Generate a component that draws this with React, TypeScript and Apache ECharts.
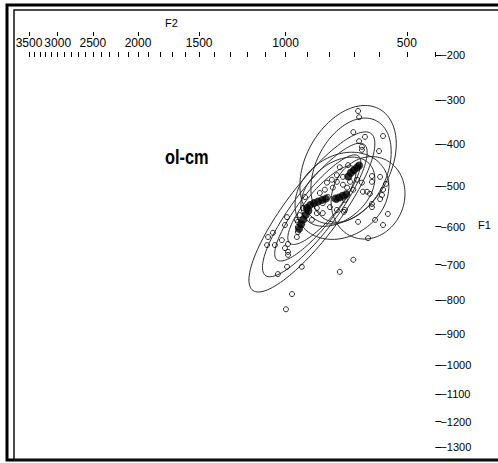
import React, { useEffect, useRef } from "react";
import * as echarts from "echarts";

// F2 axis (top, Hz, Bark-scaled)
const F2_MAJOR = [500, 1000, 1500, 2000, 2500, 3000, 3500];
const F2_MINOR = [
  400, 500, 600, 700, 800, 900, 1000, 1100, 1200, 1300, 1400, 1500, 1600, 1700, 1800, 1900,
  2000, 2100, 2200, 2300, 2400, 2500, 2600, 2700, 2800, 2900, 3000, 3100, 3200, 3300, 3400, 3500,
];
// F1 axis (right, Hz, Bark-scaled)
const F1_TICKS = [200, 300, 400, 500, 600, 700, 800, 900, 1000, 1100, 1200, 1300];

// Individual tokens [F2 Hz, F1 Hz] (open circles)
const TOKENS: number[][] = [
  [683, 324], [679, 338], [702, 372], [656, 383], [679, 393], [587, 381], [668, 406], [668, 413],
  [602, 416], [629, 475], [598, 477], [629, 489], [664, 513], [648, 513], [637, 518], [587, 508],
  [591, 521], [598, 531], [629, 543], [629, 551], [576, 494], [569, 568], [587, 596], [617, 583],
  [644, 630], [683, 588], [740, 563], [757, 454], [723, 449], [702, 461], [769, 473], [744, 477],
  [790, 484], [769, 489], [811, 491], [744, 496], [715, 489], [687, 484], [668, 491], [820, 508],
  [786, 503], [727, 503], [702, 508], [842, 516], [807, 526], [769, 533], [736, 533], [829, 541],
  [798, 551], [769, 558], [855, 553], [829, 566], [736, 558], [918, 553], [932, 571], [941, 588],
  [877, 583], [908, 526], [855, 566], [993, 576], [946, 583], [941, 601], [941, 614], [1003, 596],
  [1063, 616], [1093, 648], [1053, 648], [988, 645], [1003, 656], [988, 666], [988, 674], [993, 706],
  [923, 706], [1038, 726], [969, 782], [998, 826], [757, 720], [702, 687], [946, 627], [1018, 635],
  [1088, 627],
];

// Mean formant tracks [F2 Hz, F1 Hz] (filled)
const TRACK_A: number[][] = [[936, 606], [926, 594], [916, 582], [905, 570], [893, 560]];
const TRACK_B: number[][] = [[900, 553], [885, 546], [868, 541], [850, 537], [832, 533], [816, 530]];
const TRACK_C: number[][] = [[775, 530], [760, 527], [745, 523], [730, 519]];
const TRACK_D: number[][] = [[722, 476], [712, 467], [700, 461], [688, 455], [679, 450]];

// Ellipses: [centre F2 Hz, centre F1 Hz, sd F2 (Bark), sd F1 (Bark), correlation]
const ELLIPSES: number[][] = [
  [723, 448, 1.5, 1.25, 0.35],
  [711, 461, 1.25, 1.1, 0.35],
  [748, 523, 1.46, 0.92, 0.21],
  [644, 528, 1.15, 0.87, 0.1],
  [765, 513, 1.15, 0.73, 0.38],
  [877, 563, 1.96, 1.69, 0.85],
  [864, 558, 1.63, 1.41, 0.86],
  [851, 553, 1.34, 1.12, 0.86],
  [833, 546, 1.06, 0.83, 0.83],
];

const LABEL = "ol-cm";

// Zwicker Bark transform
const bark = (f: number) => 13 * Math.atan(0.00076 * f) + 3.5 * Math.atan((f / 7500) * (f / 7500));
const hzOf = (b: number, list: number[]) => {
  let best = list[0];
  for (const v of list) if (Math.abs(bark(v) - b) < Math.abs(bark(best) - b)) best = v;
  return best;
};

const FONT = "Arial, 'Liberation Sans', sans-serif";

export default function App() {
  const ref = useRef<HTMLDivElement>(null);
  useEffect(() => {
    if (!ref.current) return;
    const chart = echarts.init(ref.current, null, { renderer: "svg" });
    const xMin = bark(400);
    const xMax = bark(3500);
    const yMin = bark(200);
    const yMax = bark(1300);
    const trackSeries = [TRACK_A, TRACK_B, TRACK_C, TRACK_D].map((tr) => ({
      type: "scatter",
      xAxisIndex: 0,
      yAxisIndex: 0,
      symbol: "circle",
      symbolSize: 8,
      silent: true,
      data: tr.map(([f2, f1]) => [bark(f2), bark(f1)]),
      itemStyle: { color: "#000" },
      z: 3,
    }));
    chart.setOption({
      animation: false,
      backgroundColor: "#ffffff",
      grid: { left: 29, right: 62.6, top: 55, bottom: 16, containLabel: false },
      xAxis: [
        {
          type: "value",
          position: "top",
          inverse: true,
          min: xMin,
          max: xMax,
          offset: -2,
          axisLine: { show: false },
          splitLine: { show: false },
          axisTick: {
            show: true,
            length: 5,
            customValues: F2_MINOR.map(bark),
            lineStyle: { color: "#000", width: 1 },
          },
          axisLabel: { show: false },
        },
        {
          type: "value",
          position: "top",
          inverse: true,
          min: xMin,
          max: xMax,
          offset: 23,
          axisLine: { show: false },
          splitLine: { show: false },
          axisTick: {
            show: true,
            inside: true,
            length: 4,
            customValues: F2_MAJOR.map(bark),
            lineStyle: { color: "#000", width: 1 },
          },
          axisLabel: {
            show: true,
            inside: true,
            margin: 5,
            interval: 0,
            showMinLabel: true,
            showMaxLabel: true,
            customValues: F2_MAJOR.map(bark),
            formatter: (v: number) => String(hzOf(v, F2_MAJOR)),
            color: "#000",
            fontSize: 12,
            fontFamily: FONT,
          },
        },
      ],
      yAxis: {
        type: "value",
        position: "right",
        inverse: true,
        min: yMin,
        max: yMax,
        axisLine: { show: false },
        splitLine: { show: false },
        axisTick: {
          show: true,
          length: 6,
          customValues: F1_TICKS.map(bark),
          lineStyle: { color: "#000", width: 1 },
        },
        axisLabel: {
          show: true,
          margin: 5,
          showMinLabel: true,
          showMaxLabel: true,
          customValues: F1_TICKS.map(bark),
          formatter: (v: number) => "\u2212" + hzOf(v, F1_TICKS),
          color: "#000",
          fontSize: 11,
          fontFamily: FONT,
        },
      },
      graphic: [
        {
          type: "rect",
          shape: { x: 7, y: 5, width: 500, height: 455 },
          style: { fill: "none", stroke: "#000", lineWidth: 3 },
          silent: true,
        },
        {
          type: "rect",
          shape: { x: 14, y: 10, width: 500, height: 450 },
          style: { fill: "none", stroke: "#111", lineWidth: 1.5 },
          silent: true,
        },
        {
          type: "text",
          x: 165,
          y: 17,
          style: { text: "F2", fill: "#000", font: `11px ${FONT}` },
        },
        {
          type: "text",
          x: 478,
          y: 219,
          style: { text: "F1", fill: "#000", font: `11px ${FONT}` },
        },
        {
          type: "text",
          x: 165,
          y: 146,
          scaleX: 0.78,
          style: {
            text: LABEL,
            fill: "#000",
            font: `bold 21px ${FONT}`,
          },
        },
      ],
      series: [
        {
          type: "custom",
          xAxisIndex: 0,
          yAxisIndex: 0,
          clip: false,
          silent: true,
          encode: { x: 0, y: 1 },
          data: ELLIPSES.map(([f2, f1, a, b, r]) => [bark(f2), bark(f1), a, b, r]),
          renderItem: (_p: any, api: any) => {
            const cx = api.value(0);
            const cy = api.value(1);
            const a = api.value(2);
            const b = api.value(3);
            const r = api.value(4);
            const s = Math.sqrt(1 - r * r);
            const pts: number[][] = [];
            for (let i = 0; i <= 120; i++) {
              const t = (i / 120) * Math.PI * 2;
              pts.push(api.coord([cx + a * Math.cos(t), cy + b * (r * Math.cos(t) + s * Math.sin(t))]));
            }
            return {
              type: "polyline",
              shape: { points: pts },
              style: { stroke: "#2b2b2b", lineWidth: 1, fill: null },
            };
          },
          z: 1,
        },
        {
          type: "scatter",
          xAxisIndex: 0,
          yAxisIndex: 0,
          symbol: "circle",
          symbolSize: 5,
          silent: true,
          data: TOKENS.map(([f2, f1]) => [bark(f2), bark(f1)]),
          itemStyle: { color: "rgba(0,0,0,0)", borderColor: "#000", borderWidth: 1 },
          z: 2,
        },
        ...trackSeries,
      ],
    });
    return () => chart.dispose();
  }, []);
  return (
    <div
      ref={ref}
      style={{ position: "fixed", left: 0, top: 0, width: 498, height: 463, background: "#fff" }}
    />
  );
}
